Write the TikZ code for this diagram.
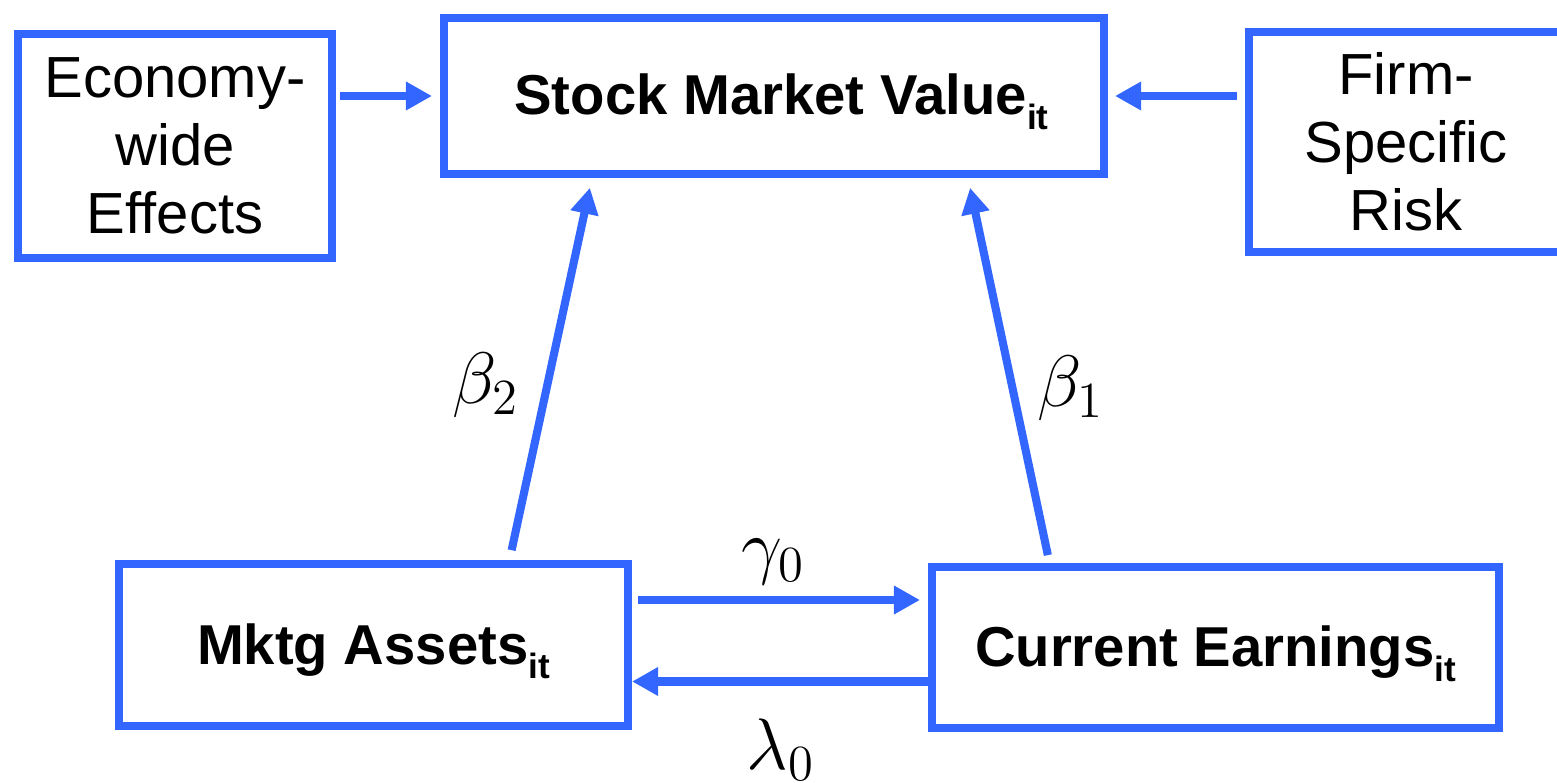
\documentclass[tikz,border=0pt]{standalone}
\usepackage{fontspec}
\setmainfont{Liberation Sans}
\usepackage{tikz}
\usetikzlibrary{positioning,arrows.meta,calc}
\definecolor{boxblue}{HTML}{3366FF}
\newcommand{\subit}{\raisebox{-0.5ex}{\fontsize{10}{10}\selectfont\bfseries it}}

\begin{document}
\begin{tikzpicture}[
  every node/.style={font=\fontsize{16.5}{19.4}\selectfont},
  box/.style={draw=boxblue, line width=2.3pt, align=center, inner sep=0pt},
  keybox/.style={box, font=\fontsize{16}{19}\selectfont\bfseries, text height=0.52cm, text depth=0.14cm},
  link/.style={draw=boxblue, line width=2.3pt, -{Triangle[length=0.26cm,width=0.27cm]}},
  coef/.style={font=\fontsize{20}{24}\selectfont}
]
\useasboundingbox (0,0) rectangle (15.57,7.82);

\node[box, minimum width=3.14cm, minimum height=2.24cm] (econ) at (1.75,6.36) {Economy-\\wide\\Effects};
\node[keybox, minimum width=6.60cm, minimum height=1.56cm] (smv) at (7.74,6.86) {\hspace{0.15cm}Stock Market Value\subit};
\node[box, minimum width=3.14cm, minimum height=2.20cm] (firm) at (14.06,6.40) {Firm-\\Specific\\Risk};

\node[keybox, minimum width=5.09cm, minimum height=1.62cm] (mktg) at (3.735,1.37) {Mktg Assets\subit};
\node[keybox, minimum width=5.67cm, minimum height=1.61cm] (earn) at (12.155,1.345) {Current Earnings\subit};

% outside effects
\draw[link, shorten <=0.04cm, shorten >=0.08cm] (econ.east |- smv.west) -- (smv.west);
\draw[link, shorten <=0.08cm, shorten >=0.07cm] (firm.west |- smv.east) -- (smv.east);

% paths to market value
\draw[link, shorten <=0.10cm, shorten >=0.10cm] ([xshift=1.36cm]mktg.north) -- ([xshift=-1.82cm]smv.south);
\draw[link, shorten <=0.08cm, shorten >=0.10cm] ([xshift=-1.66cm]earn.north) -- ([xshift=1.94cm]smv.south);

% feedback between assets and earnings
\coordinate (g0) at ([yshift=0.45cm]mktg.east);
\coordinate (l0) at ([yshift=-0.34cm]earn.west);
\draw[link, shorten <=0.06cm, shorten >=0.08cm] (g0) -- (g0 -| earn.west);
\draw[link] (l0) -- (l0 -| mktg.east);

\node[coef] (b2) at (4.86,3.97) {$\beta_2$};
\node[coef] (b1) at (10.71,3.94) {$\beta_1$};
\node[coef] (c0) at (7.73,2.20) {$\gamma_0$};
\node[coef] (d0) at (7.81,0.32) {$\lambda_0$};
\end{tikzpicture}
\end{document}
